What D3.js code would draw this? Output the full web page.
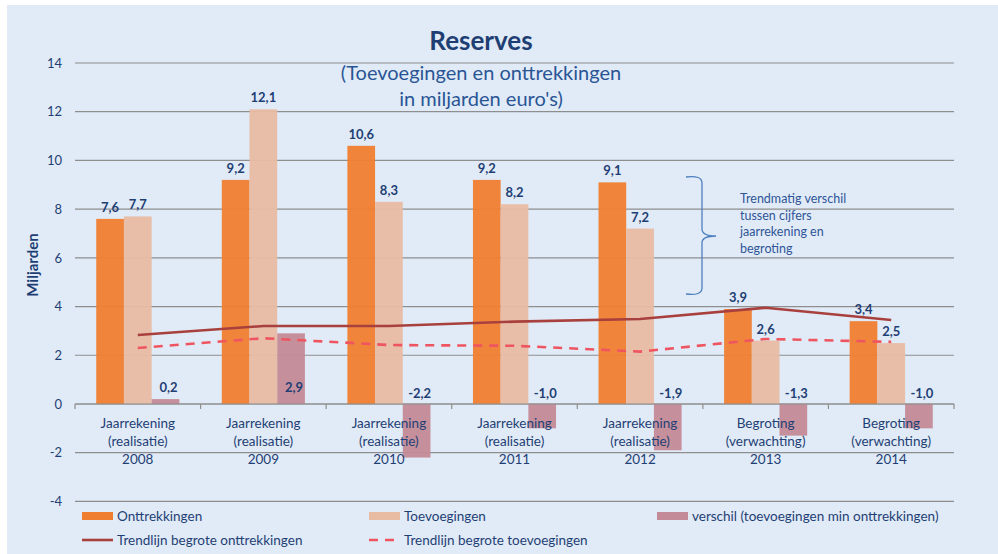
<!DOCTYPE html>
<html><head><meta charset="utf-8">
<script src="https://cdn.jsdelivr.net/npm/d3@7"></script>
<style>
html,body{margin:0;padding:0;background:#fff;}
svg{display:block;font-family:Lato,'Open Sans',sans-serif;}
</style></head>
<body><svg id="chart" width="998" height="554"></svg>
<script>
const categories = [
  ["Jaarrekening","(realisatie)","2008"],
  ["Jaarrekening","(realisatie)","2009"],
  ["Jaarrekening","(realisatie)","2010"],
  ["Jaarrekening","(realisatie)","2011"],
  ["Jaarrekening","(realisatie)","2012"],
  ["Begroting","(verwachting)","2013"],
  ["Begroting","(verwachting)","2014"]
];
const onttrekkingen = [7.6, 9.2, 10.6, 9.2, 9.1, 3.9, 3.4];
const toevoegingen = [7.7, 12.1, 8.3, 8.2, 7.2, 2.6, 2.5];
const verschil = [0.2, 2.9, -2.2, -1.0, -1.9, -1.3, -1.0];
const trendOnttrekkingen = [2.83, 3.2, 3.2, 3.38, 3.49, 3.95, 3.45];
const trendToevoegingen = [2.3, 2.7, 2.42, 2.39, 2.15, 2.67, 2.55];
const yTicks = [-4, -2, 0, 2, 4, 6, 8, 10, 12, 14];
const seriesNames = ["Onttrekkingen","Toevoegingen","verschil (toevoegingen min onttrekkingen)"];
const trendNames = ["Trendlijn begrote onttrekkingen","Trendlijn begrote toevoegingen"];
const noteLines = ["Trendmatig verschil","tussen cijfers","jaarrekening en","begroting"];

const colors = {orange:"#F07E30", peach:"#E8BCA3", diff:"#C38B97", trend:"#A8403D", dash:"#EE5560",
  text:"#1F3F74", grid:"#8E8E8E", bg:"#E1EBF7", brace:"#4F7FBF"};

const svg = d3.select("#chart");
svg.append("rect").attr("x",7).attr("y",5).attr("width",991).attr("height",549).attr("fill",colors.bg);

const x0 = d3.scaleBand().domain(d3.range(7)).range([75,954]);
const y = d3.scaleLinear().domain([-4,14]).range([501.4,63]);
const barW = 27.7;
const seriesAll = [onttrekkingen, toevoegingen, verschil];
const seriesCols = [colors.orange, colors.peach, colors.diff];
const bx = (i,s) => x0(i) + x0.bandwidth()/2 + (s-1.5)*barW;

// gridlines
const g = svg.append("g");
g.selectAll("line.grid").data(yTicks).join("line")
  .attr("x1",75).attr("x2",954).attr("y1",d=>y(d)).attr("y2",d=>y(d))
  .attr("stroke",colors.grid).attr("stroke-width",1.2);
// y axis labels
const yAxis = d3.axisLeft(y).tickValues(yTicks).tickSize(0).tickPadding(0).tickFormat(d=>String(d));
const ya = svg.append("g").attr("transform","translate(62,0)").call(yAxis);
ya.select(".domain").remove();
ya.selectAll("text").attr("fill",colors.text).attr("font-size",13).attr("font-family","Lato,'Open Sans',sans-serif");

// bars
seriesAll.forEach((ser,s)=>{
  svg.append("g").selectAll("rect").data(ser).join("rect")
    .attr("x",(d,i)=>bx(i,s)).attr("width",barW)
    .attr("y",d=>y(Math.max(0,d))).attr("height",d=>Math.abs(y(d)-y(0)))
    .attr("fill",seriesCols[s]).attr("fill-opacity",0.95);
});

// x axis (category boundaries ticks)
const xa = svg.append("g");
xa.append("line").attr("x1",75).attr("x2",954).attr("y1",y(0)).attr("y2",y(0)).attr("stroke",colors.grid).attr("stroke-width",1.2);
xa.selectAll("line.tk").data(d3.range(8)).join("line")
  .attr("x1",d=>75+d*x0.bandwidth()).attr("x2",d=>75+d*x0.bandwidth())
  .attr("y1",y(0)).attr("y2",y(0)+5).attr("stroke",colors.grid).attr("stroke-width",1.2);
categories.forEach((lines,i)=>{
  const t = xa.append("text").attr("x",x0(i)+x0.bandwidth()/2).attr("text-anchor","middle")
    .attr("fill",colors.text).attr("font-size",13.5);
  lines.forEach((l,k)=>t.append("tspan").attr("x",x0(i)+x0.bandwidth()/2).attr("y",428+k*18.2).text(l));
});

// trend lines
const line = d3.line().x((d,i)=>x0(i)+x0.bandwidth()/2).y(d=>y(d));
svg.append("path").datum(trendOnttrekkingen).attr("d",line).attr("fill","none")
  .attr("stroke",colors.trend).attr("stroke-width",2.6);
svg.append("path").datum(trendToevoegingen).attr("d",line).attr("fill","none")
  .attr("stroke",colors.dash).attr("stroke-width",2.6).attr("stroke-dasharray","9,7");

// data labels
const fmt = v => d3.format(".1f")(v).replace(".",",").replace("−","-");
[onttrekkingen,toevoegingen].forEach((ser,s)=>{
  svg.append("g").selectAll("text").data(ser).join("text")
    .attr("x",(d,i)=>bx(i,s)+barW/2).attr("y",d=>y(d)-7)
    .attr("text-anchor","middle").attr("font-weight","bold").attr("font-size",13)
    .attr("fill",colors.text).text(fmt);
});
svg.append("g").selectAll("text").data(verschil).join("text")
  .attr("x",(d,i)=>bx(i,2)+barW/2+3).attr("y",d=>d>=0? y(0)-12 : y(0)-6)
  .attr("text-anchor","middle").attr("font-weight","bold").attr("font-size",13)
  .attr("fill",colors.text).text(fmt);

// title
svg.append("text").attr("x",481).attr("y",50).attr("text-anchor","middle").attr("font-weight","bold")
  .attr("font-size",26).attr("fill",colors.text).text("Reserves");
svg.append("text").attr("x",481).attr("y",80).attr("text-anchor","middle")
  .attr("font-size",20).attr("fill","#2A5595").text("(Toevoegingen en onttrekkingen");
svg.append("text").attr("x",481).attr("y",106).attr("text-anchor","middle")
  .attr("font-size",20).attr("fill","#2A5595").text("in miljarden euro's)");

// y axis title
svg.append("text").attr("transform","translate(38,265) rotate(-90)").attr("text-anchor","middle")
  .attr("font-weight","bold").attr("font-size",15).attr("fill",colors.text).text("Miljarden");

// brace annotation
svg.append("path").attr("d","M686,177 Q702,175 702,183 L702,229 Q702,236 716,236 Q702,236 702,243 L702,288 Q702,296 686,294")
  .attr("fill","none").attr("stroke",colors.brace).attr("stroke-width",1.3);
const nt = svg.append("text").attr("fill","#2F5597").attr("font-size",12.5);
noteLines.forEach((l,k)=>nt.append("tspan").attr("x",740).attr("y",203+k*16.5).text(l));

// legend
const leg = svg.append("g");
const legPos = [[82,117],[369,404],[657,692]];
seriesNames.forEach((n,k)=>{
  leg.append("rect").attr("x",legPos[k][0]).attr("y",512).attr("width",31).attr("height",8).attr("fill",seriesCols[k]);
  leg.append("text").attr("x",legPos[k][1]).attr("y",521).attr("font-size",13.5).attr("fill",colors.text).text(n);
});
trendNames.forEach((n,k)=>{
  leg.append("line").attr("x1",legPos[k][0]).attr("x2",legPos[k][0]+31).attr("y1",540).attr("y2",540)
    .attr("stroke",k===0?colors.trend:colors.dash).attr("stroke-width",2.6)
    .attr("stroke-dasharray",k===0?null:"9,7");
  leg.append("text").attr("x",legPos[k][1]).attr("y",545).attr("font-size",13.5).attr("fill",colors.text).text(n);
});
</script></body></html>
